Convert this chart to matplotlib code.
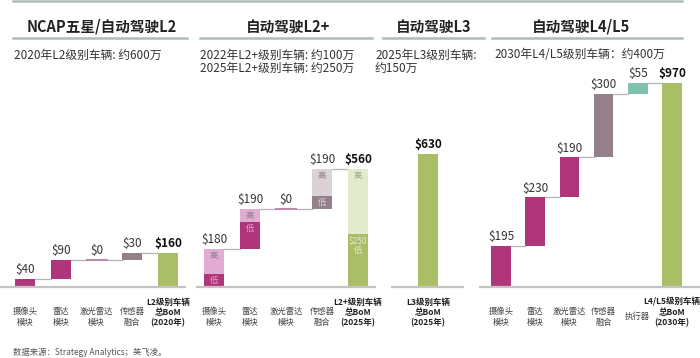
import matplotlib
matplotlib.use("Agg")
import matplotlib.pyplot as plt
from matplotlib.lines import Line2D

plt.rcParams['font.family'] = ['Noto Sans CJK SC', 'DejaVu Sans']

# ---------------- data ----------------
p1_labels = ['摄像头\n模块', '雷达\n模块', '激光雷达\n模块', '传感器\n融合', 'L2级别车辆\n总BoM\n(2020年)']
p1_values = [40, 90, 0, 30]
p1_total = 160

p2_labels = ['摄像头\n模块', '雷达\n模块', '激光雷达\n模块', '传感器\n融合', 'L2+级别车辆\n总BoM\n(2025年)']
p2_high = [180, 190, 0, 190]
p2_low = [60, 130, 0, 60]
p2_total_high = 560
p2_total_low = 250

p3_labels = ['L3级别车辆\n总BoM\n(2025年)']
p3_total = 630

p4_labels = ['摄像头\n模块', '雷达\n模块', '激光雷达\n模块', '传感器\n融合', '执行器', 'L4/L5级别车辆\n总BoM\n(2030年)']
p4_values = [195, 230, 190, 300, 55]
p4_total = 970

titles = ['NCAP五星/自动驾驶L2', '自动驾驶L2+', '自动驾驶L3', '自动驾驶L4/L5']
subtitles = ['2020年L2级别车辆: 约600万',
             '2022年L2+级别车辆: 约100万\n2025年L2+级别车辆: 约250万',
             '2025年L3级别车辆:\n约150万',
             '2030年L4/L5级别车辆：约400万']
source = '数据来源：Strategy Analytics；英飞凌。'

# ---------------- style ----------------
MAG = '#b0367c'
MAG_L = '#e2abd1'
MAU = '#93808a'
MAU_L = '#dad2d6'
TEAL = '#7fc1ab'
GRN = '#a9be67'
GRN_L = '#e3ebcc'
CONN = '#b5b5b5'
TXT = '#333333'
LINE = '#aebdb6'

W, H = 700, 358
fig = plt.figure(figsize=(7.0, 3.58), dpi=100)
fig.patch.set_facecolor('white')

BASE_PX = 287
TOP_PX = 60
YMAX = (BASE_PX - TOP_PX) / 0.2108


def make_ax(x0, x1):
    ax = fig.add_axes([x0 / W, (H - BASE_PX) / H, (x1 - x0) / W, (BASE_PX - TOP_PX) / H])
    ax.set_ylim(0, YMAX)
    for s in ['top', 'right', 'left']:
        ax.spines[s].set_visible(False)
    ax.spines['bottom'].set_color('#c4c4c4')
    ax.spines['bottom'].set_linewidth(1.6)
    ax.set_yticks([])
    ax.patch.set_alpha(0)
    return ax


def set_labels(ax, labels, bold_last=True):
    ax.set_xticks(range(len(labels)))
    ax.set_xticklabels(labels, fontsize=6.0, color='#444444', linespacing=1.2)
    ax.tick_params(axis='x', length=0, pad=21.5)
    tl = ax.get_xticklabels()
    for t in tl:
        t.set_verticalalignment('center')
    if bold_last:
        tl[-1].set_fontweight('bold')
        tl[-1].set_color('#222222')
        tl[-1].set_fontsize(6.1)
        ax.xaxis.get_major_ticks()[-1].set_pad(18.5)


def vlabel(ax, x, y, s, bold=False):
    ax.annotate(s, (x, y), xytext=(0, 2), textcoords='offset points',
                ha='center', va='bottom', fontsize=8.5,
                fontweight='bold' if bold else 'normal',
                color='#111111' if bold else TXT)


def connector(ax, i, y, w):
    ax.plot([i + w / 2, i + 1 - w / 2], [y, y], color=CONN, lw=0.9, zorder=1)


# ---------------- panel 1 ----------------
sp1 = 35.75
ax1 = make_ax(0, 185)
ax1.set_xlim(-25 / sp1, (185 - 25) / sp1)
w1 = 20 / sp1
cols1 = [MAG, MAG, MAG, MAU]
cum = 0
for i, v in enumerate(p1_values):
    if v > 0:
        ax1.bar(i, v, bottom=cum, width=w1, color=cols1[i], zorder=2)
    else:
        ax1.plot([i - w1 / 2, i + w1 / 2], [cum, cum], color='#c08aa8', lw=1.5, zorder=2)
    vlabel(ax1, i, cum + v, f'${v}')
    cum += v
    connector(ax1, i, cum, w1)
n = len(p1_values)
ax1.bar(n, p1_total, width=w1, color=GRN, zorder=2)
vlabel(ax1, n, p1_total, f'${p1_total}', bold=True)
set_labels(ax1, p1_labels)

# ---------------- panel 2 ----------------
sp2 = 36
ax2 = make_ax(197, 375)
ax2.set_xlim(-(214 - 197) / sp2, (375 - 214) / sp2)
w2 = 20 / sp2
cols2 = [(MAG, MAG_L), (MAG, MAG_L), (MAG, MAG_L), (MAU, MAU_L)]
cum = 0
for i, (hv, lv) in enumerate(zip(p2_high, p2_low)):
    dark, light = cols2[i]
    if hv > 0:
        ax2.bar(i, lv, bottom=cum, width=w2, color=dark, zorder=2)
        ax2.bar(i, hv - lv, bottom=cum + lv, width=w2, color=light, zorder=2)
        ax2.annotate('高', (i, cum + hv), xytext=(0, -1.5), textcoords='offset points',
                     ha='center', va='top', fontsize=6, color='#8d7f87')
        ax2.annotate('低', (i, cum + lv), xytext=(0, -1.5), textcoords='offset points',
                     ha='center', va='top', fontsize=6, color=light)
    else:
        ax2.plot([i - w2 / 2, i + w2 / 2], [cum, cum], color='#c08aa8', lw=1.5, zorder=2)
    vlabel(ax2, i, cum + hv, f'${hv}')
    cum += hv
    connector(ax2, i, cum, w2)
n = len(p2_high)
ax2.bar(n, p2_total_low, width=w2, color=GRN, zorder=2)
ax2.bar(n, p2_total_high - p2_total_low, bottom=p2_total_low, width=w2, color=GRN_L, zorder=2)
ax2.annotate('高', (n, p2_total_high), xytext=(0, -1.5), textcoords='offset points',
             ha='center', va='top', fontsize=6, color='#9aa48a')
ax2.annotate(f'${p2_total_low}\n低', (n, p2_total_low), xytext=(0, -2), textcoords='offset points',
             ha='center', va='top', fontsize=6, color=GRN_L, linespacing=1.0)
vlabel(ax2, n, p2_total_high, f'${p2_total_high}', bold=True)
set_labels(ax2, p2_labels)

# ---------------- panel 3 ----------------
sp3 = 36
ax3 = make_ax(392, 463)
ax3.set_xlim(-(428 - 392) / sp3, (463 - 428) / sp3)
ax3.bar(0, p3_total, width=20 / sp3, color=GRN, zorder=2)
vlabel(ax3, 0, p3_total, f'${p3_total}', bold=True)
set_labels(ax3, p3_labels)

# ---------------- panel 4 ----------------
sp4 = 34.2
ax4 = make_ax(480, 700)
ax4.set_xlim(-(501 - 480) / sp4, (700 - 501) / sp4)
w4 = 19.5 / sp4
cols4 = [MAG, MAG, MAG, MAU, TEAL]
cum = 0
for i, v in enumerate(p4_values):
    ax4.bar(i, v, bottom=cum, width=w4, color=cols4[i], zorder=2)
    vlabel(ax4, i, cum + v, f'${v}')
    cum += v
    connector(ax4, i, cum, w4)
n = len(p4_values)
ax4.bar(n, p4_total, width=w4, color=GRN, zorder=2)
vlabel(ax4, n, p4_total, f'${p4_total}', bold=True)
set_labels(ax4, p4_labels)

# ---------------- headers ----------------
hdr_center = [102, 288, 434, 581]
hdr_lines = [(13, 187), (200, 372), (383, 484), (492, 682)]
sub_x = [14, 200, 375, 494]
for t, cx, (a, b), sx, st in zip(titles, hdr_center, hdr_lines, sub_x, subtitles):
    fig.text(cx / W, 1 - 27 / H, t, ha='center', va='center', fontsize=10.5,
             fontweight='bold', color='#222222')
    fig.add_artist(Line2D([a / W, b / W], [1 - 37.5 / H] * 2, color=LINE, lw=1.8))
    fig.text(sx / W, 1 - 48.5 / H, st, ha='left', va='top', fontsize=8.5,
             color=TXT, linespacing=1.05)

fig.add_artist(Line2D([13 / W, 682 / W], [1 - 1.2 / H] * 2, color=LINE, lw=1.8))
fig.text(13 / W, 1 - 352.5 / H, source, ha='left', va='center', fontsize=6, color='#555555')

fig.savefig('out.png', dpi=100)
